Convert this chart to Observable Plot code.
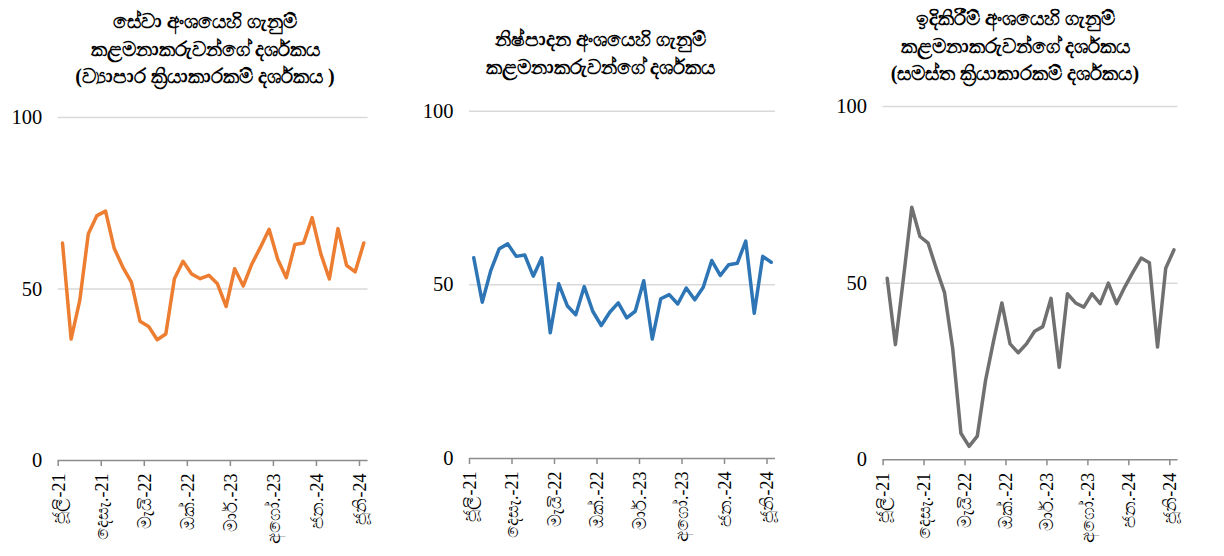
<!DOCTYPE html>
<html>
<head>
<meta charset="utf-8">
<script src="https://cdn.jsdelivr.net/npm/d3@7"></script>
<script src="https://cdn.jsdelivr.net/npm/@observablehq/plot@0.6"></script>
<style>
  html, body { margin: 0; padding: 0; background: #fff; }
  #root { position: relative; width: 1224px; height: 556px; overflow: hidden; }
  .panel { position: absolute; top: 0; }
  .title { position: absolute; text-align: center; font-family: "Liberation Serif", "Noto Sans", serif; font-weight: bold; font-size: 20px; line-height: 27.5px; color: #000; }
</style>
</head>
<body>
<div id="root"></div>
<script>
const months = ["ජූලි-21","අගෝ.-21","සැප්.-21","ඔක්.-21","නොවැ.-21","දෙසැ.-21","ජන.-22","පෙබ.-22","මාර්.-22","අප්‍රේ.-22","මැයි-22","ජූනි-22","ජූලි-22","අගෝ.-22","සැප්.-22","ඔක්.-22","නොවැ.-22","දෙසැ.-22","ජන.-23","පෙබ.-23","මාර්.-23","අප්‍රේ.-23","මැයි-23","ජූනි-23","ජූලි-23","අගෝ.-23","සැප්.-23","ඔක්.-23","නොවැ.-23","දෙසැ.-23","ජන.-24","පෙබ.-24","මාර්.-24","අප්‍රේ.-24","මැයි-24","ජූනි-24"];
const tickMonths = ["ජූලි-21","දෙසැ.-21","මැයි-22","ඔක්.-22","මාර්.-23","අගෝ.-23","ජන.-24","ජූනි-24"];
const yTicks = [0, 50, 100];

const servicesPMI = [63.4,35.4,46.6,66.1,71.4,72.7,61.9,56.4,52.0,40.6,39.1,35.2,36.9,53.0,58.1,54.4,53.0,54.0,51.5,44.9,55.9,50.9,57.3,62.2,67.4,58.7,53.3,63.0,63.4,70.8,60.3,52.9,67.6,56.9,55.0,63.4];
const manufacturingPMI = [57.8,45.0,54.1,60.4,61.8,58.2,58.6,52.5,57.8,36.2,50.3,44.0,41.4,49.5,42.4,38.3,42.1,44.8,40.5,42.4,51.2,34.4,46.0,47.2,44.5,49.1,45.7,49.3,57.0,52.7,55.8,56.2,62.6,41.8,58.2,56.5];
const constructionPMI = [51.4,32.6,51.7,71.5,63.2,61.3,54.1,47.3,31.4,7.5,3.8,6.7,22.4,33.8,44.4,32.8,30.3,32.8,36.4,37.7,45.7,26.2,47.0,44.4,43.2,47.0,44.2,50.0,44.2,48.9,53.1,57.1,55.8,31.9,54.2,59.4];

const titles = [
  ["සේවා අංශයෙහි ගැනුම්", "කළමනාකරුවන්ගේ දර්ශකය", "(ව්‍යාපාර ක්‍රියාකාරකම් දර්ශකය )"],
  ["නිෂ්පාදන අංශයෙහි ගැනුම්", "කළමනාකරුවන්ගේ දර්ශකය"],
  ["ඉදිකිරීම් අංශයෙහි ගැනුම්", "කළමනාකරුවන්ගේ දර්ශකය", "(සමස්ත ක්‍රියාකාරකම් දර්ශකය)"]
];
const seriesList = [servicesPMI, manufacturingPMI, constructionPMI];
const colors = ["#ED7D31", "#2E75B6", "#707070"];

const layouts = [
  {left: 0,   width: 410, ml: 57.7, mr: 42.4, mt: 117,   mb: 96,   titleTop: 8,  titleCx: 205},
  {left: 410, width: 410, ml: 59,   mr: 45,   mt: 110.7, mb: 98,   titleTop: 26, titleCx: 600},
  {left: 820, width: 404, ml: 62.6, mr: 46.5, mt: 106,   mb: 96.7, titleTop: 5,  titleCx: 1015}
];

const root = document.getElementById("root");
const serif = "'Liberation Serif', 'Noto Sans', serif";

seriesList.forEach((vals, k) => {
  const L = layouts[k];
  const data = vals.map((v, i) => ({i, v, m: months[i]}));
  const tickIdx = tickMonths.map(t => months.indexOf(t));
  const boundaries = tickIdx.map(i => i - 0.5);
  const labels = tickIdx.map(i => ({i, m: months[i]}));
  const chart = Plot.plot({
    width: L.width,
    height: 556,
    marginLeft: L.ml,
    marginRight: L.mr,
    marginTop: L.mt,
    marginBottom: L.mb,
    style: {fontFamily: serif, background: "transparent", overflow: "visible"},
    x: {type: "linear", domain: [-0.5, 35.5], axis: null},
    y: {domain: [0, 100], axis: null},
    marks: [
      Plot.gridY([50, 100], {stroke: "#d9d9d9", strokeOpacity: 1, strokeWidth: 1.5}),
      Plot.axisY(yTicks, {label: null, tickSize: 0, tickPadding: 16, fontSize: 20.5, fill: "#000", fontFamily: serif}),
      Plot.ruleY([0], {stroke: "#8c8c8c", strokeWidth: 1.5}),
      Plot.axisX(boundaries, {label: null, tickSize: 6, stroke: "#8c8c8c", strokeWidth: 1.5, tickFormat: () => "", strokeOpacity: 1}),
      Plot.text(labels, {x: "i", text: "m", frameAnchor: "bottom", rotate: -90, textAnchor: "end", dy: 13, dx: 2, fontSize: 18, fill: "#000", fontFamily: serif}),
      Plot.line(data, {x: "i", y: "v", stroke: colors[k], strokeWidth: 3.5, strokeLinejoin: "round", strokeLinecap: "round"})
    ]
  });
  const wrap = document.createElement("div");
  wrap.className = "panel";
  wrap.style.left = L.left + "px";
  wrap.appendChild(chart);
  root.appendChild(wrap);

  const t = document.createElement("div");
  t.className = "title";
  t.style.top = L.titleTop + "px";
  t.style.left = (L.titleCx - 200) + "px";
  t.style.width = "400px";
  t.innerHTML = titles[k].join("<br>");
  root.appendChild(t);
});
</script>
</body>
</html>
